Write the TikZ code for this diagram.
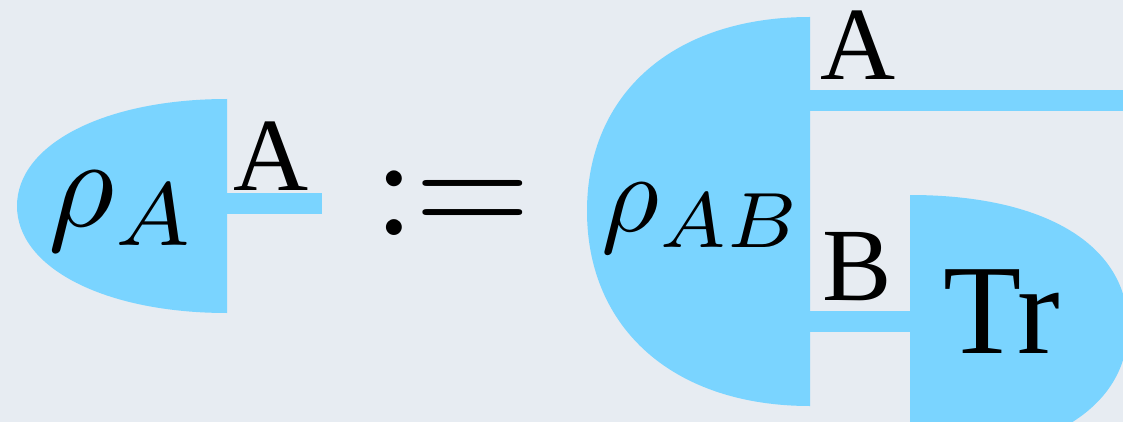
\documentclass[tikz,border=0pt]{standalone}
\usepackage{fontspec}
\newfontfamily\labelfont{Liberation Serif}
\usetikzlibrary{calc}

\definecolor{paper}{RGB}{231,236,242}
\definecolor{stateblue}{RGB}{122,212,255}

\begin{document}
\begin{tikzpicture}[x=1pt,y=-1pt,
  state/.style={fill=stateblue},
  wire/.style={draw=stateblue,line width=21pt,line cap=butt},
  lab/.style={inner sep=0pt,anchor=base,font=\labelfont,scale=10.4}]
\useasboundingbox (0,0) rectangle (1123,422);
\fill[paper] (0,0) rectangle (1123,422);
\clip (0,0) rectangle (1123,422);
% left side: reduced state
\fill[state] (227,99) .. controls (105,99) and (17,144) .. (17,206) .. controls (17,268) and (105,313) .. (227,313) -- cycle;
\coordinate (rhoA-out) at (227,203.5); \coordinate (endA) at (322,203.5);
\draw[wire] (rhoA-out) -- (endA);
\node[inner sep=0pt,anchor=base west,scale=12.8] (rhoA) at (46,226) {$\rho_A$};
\node[lab] (labA) at (271.5,190) {A};
% definition sign
\node[inner sep=0pt,anchor=base west,scale=15] (def) at (370,235) {$:=$};
% right side: joint state and partial trace
\fill[state] (810,17) .. controls (674,17) and (587,93) .. (587,211) .. controls (587,329) and (674,406) .. (810,406) -- cycle;
\fill[state] (910,195) .. controls (1045,195) and (1128,245) .. (1128,327) .. controls (1128,409) and (1045,459) .. (910,459) -- cycle;
\coordinate (rhoAB-a) at (810,100.5); \coordinate (endAB) at (1123,100.5);
\coordinate (rhoAB-b) at (810,321); \coordinate (tr-in) at (910,321);
\draw[wire] (rhoAB-a) -- (endAB);
\draw[wire] (rhoAB-b) -- (tr-in);
\node[inner sep=0pt,anchor=base west,scale=11.2] (rhoAB) at (599,231) {$\rho_{AB}$};
\node[lab] (labA2) at (858.5,80) {A};
\node[lab] (labB) at (857.5,300) {B};
\node[inner sep=0pt,anchor=base,font=\labelfont,scale=12.8] (tr) at (1002,353) {Tr};
\end{tikzpicture}
\end{document}
